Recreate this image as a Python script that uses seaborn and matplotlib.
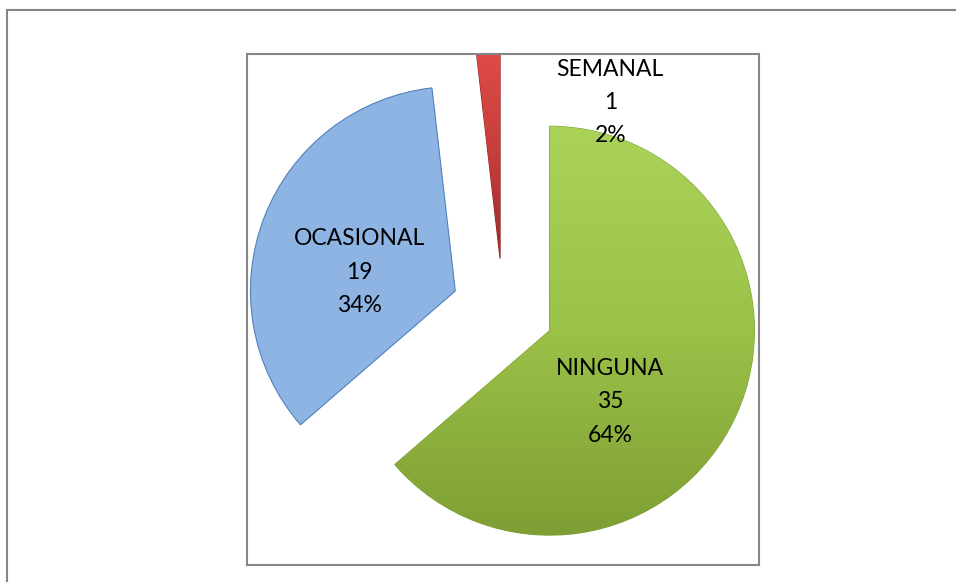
import numpy as np
import matplotlib
matplotlib.use("Agg")
import matplotlib.pyplot as plt
import seaborn as sns
from matplotlib.colors import LinearSegmentedColormap
from matplotlib.lines import Line2D

# ---- data ----
categories = ["NINGUNA", "OCASIONAL", "SEMANAL"]
counts = [35, 19, 1]
percents = [64, 34, 2]

sns.set_theme(style="white")
plt.rcParams["font.family"] = ["Lato", "DejaVu Sans"]

fig = plt.figure(figsize=(9.56, 5.82), dpi=100)
ax = fig.add_axes([247 / 956, 1 - 565 / 582, 512 / 956, 511 / 582])

base_colors = ["#9BC347", "#8EB4E3", "#C8403D"]
edge_colors = ["#7E9F35", "#4F81BD", "#8E2A28"]
wedges, _ = ax.pie(counts, startangle=90, counterclock=False,
                   explode=[0.25, 0.25, 0.25], colors=base_colors,
                   wedgeprops=dict(linewidth=0.8))
for w, ec in zip(wedges, edge_colors):
    w.set_edgecolor(ec)

# gradient fills for the green and red wedges (light on top, darker below)
grads = {0: ["#ABD35A", "#9AC148", "#7E9E33"],
         2: ["#DE4B47", "#C63D3A", "#9A2B29"]}
for i, cols in grads.items():
    w = wedges[i]
    verts = w.get_path().vertices
    x0, x1 = verts[:, 0].min(), verts[:, 0].max()
    y0, y1 = verts[:, 1].min(), verts[:, 1].max()
    cmap = LinearSegmentedColormap.from_list("g%d" % i, cols)
    grad = np.linspace(0, 1, 256).reshape(-1, 1)
    im = ax.imshow(grad, cmap=cmap, extent=(x0, x1, y0, y1), aspect="auto",
                   origin="upper", zorder=w.get_zorder() + 0.1,
                   interpolation="bilinear")
    im.set_clip_path(w)

ax.set_xlim(-1.25, 1.25)
ax.set_ylim(-1.25, 1.25)
ax.set_aspect("auto")
ax.set_frame_on(True)
for s in ax.spines.values():
    s.set_visible(True)
    s.set_color("#868686")
    s.set_linewidth(1.5)
ax.set_xticks([])
ax.set_yticks([])

# labels: middle-line positions in data units
label_pos = [(0.524, -0.451), (-0.70, 0.182), (0.524, 1.012)]
dy = 0.163
for (x, y), cat, n, p in zip(label_pos, categories, counts, percents):
    for k, t in enumerate([cat, str(n), f"{p}%"]):
        ax.text(x, y + (1 - k) * dy, t, ha="center", va="center",
                fontsize=16.5, color="black", zorder=10)

# outer chart border (top and left visible)
c = "#868686"
fig.add_artist(Line2D([7 / 956, 1.0], [1 - 10 / 582, 1 - 10 / 582],
                      transform=fig.transFigure, color=c, linewidth=1.5))
fig.add_artist(Line2D([7 / 956, 7 / 956], [0.0, 1 - 10 / 582],
                      transform=fig.transFigure, color=c, linewidth=1.5))

fig.savefig("out.png", dpi=100, facecolor="white")
